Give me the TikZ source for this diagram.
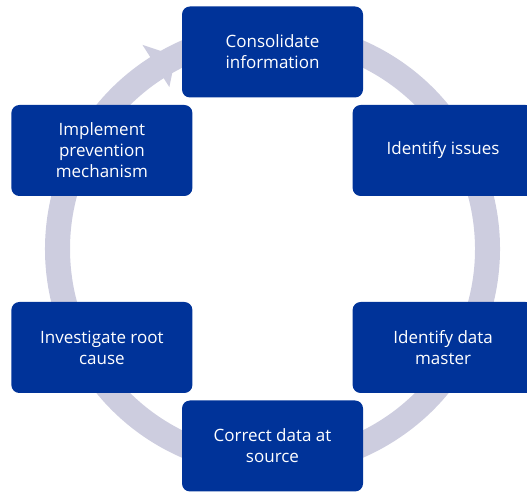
\documentclass[tikz,border=0pt]{standalone}
\usepackage{fontspec}
\setmainfont{Open Sans}
\begin{document}
\begin{tikzpicture}[x=1pt,y=1pt,
  stepbox/.style={fill=boxblue, rounded corners=8pt, minimum width=181pt, minimum height=91pt,
    inner sep=0pt, text=white, align=center, font=\fontsize{17}{21}\selectfont}]
\definecolor{boxblue}{HTML}{003399}
\definecolor{ringgrey}{HTML}{CDCDDF}
\useasboundingbox (0,0) rectangle (527,492);
\coordinate (centre) at (272.5,243);
% ring with arrow head
\fill[ringgrey] ([shift={(122.5:227.5)}]centre) arc[start angle=122.5, end angle=-265, radius=227.5]
  -- ([shift={(-265:202.5)}]centre) arc[start angle=-265, end angle=122.5, radius=202.5]
  -- ([shift={(122.5:192)}]centre) -- ([shift={(116.6:216)}]centre) -- ([shift={(122.5:242)}]centre) -- cycle;
% steps
\node[stepbox] (consolidate) at ([shift={(90:197)}]centre) {Consolidate\\information};
\node[stepbox] (issues) at ([shift={(30:197)}]centre) {Identify issues};
\node[stepbox] (master) at ([shift={(-30:197)}]centre) {Identify data\\master};
\node[stepbox] (correct) at ([shift={(-90:197)}]centre) {Correct data at\\source};
\node[stepbox] (investigate) at ([shift={(-150:197)}]centre) {Investigate root\\cause};
\node[stepbox] (implement) at ([shift={(150:197)}]centre) {Implement\\prevention\\mechanism};
\end{tikzpicture}
\end{document}
